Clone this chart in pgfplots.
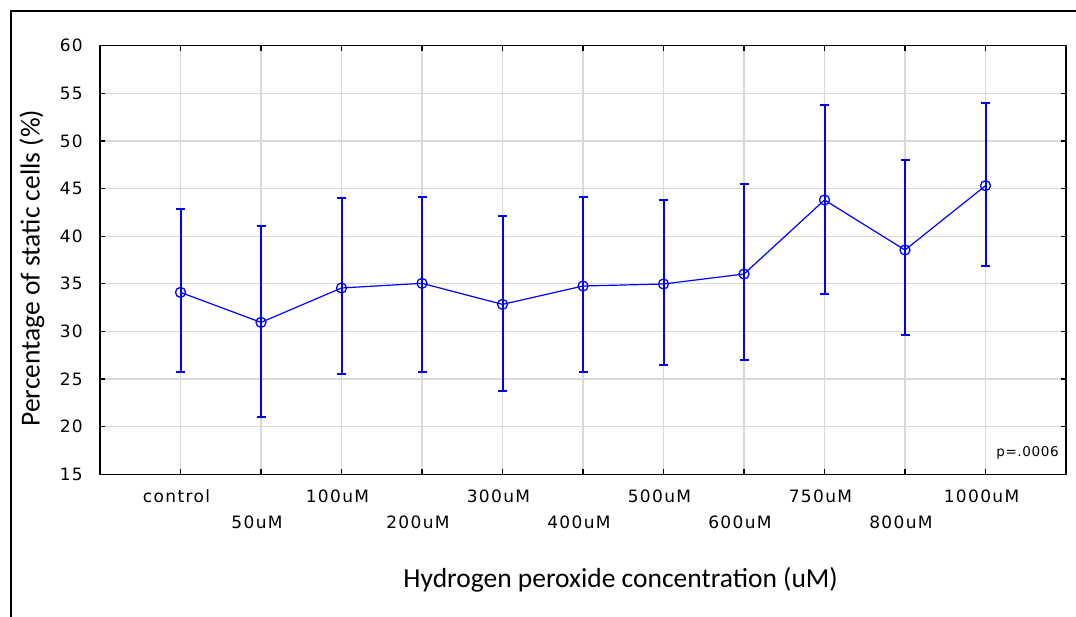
\documentclass[border=0pt]{standalone}
\usepackage{pgfplots}
\pgfplotsset{compat=1.18}
\usepackage{fontspec}
\setmainfont{Carlito}
\newfontfamily\tickfont[LetterSpace=8]{DejaVu Sans}
\newfontfamily\pfont[LetterSpace=5]{DejaVu Sans}
\newcommand{\low}[1]{\raisebox{-26.3pt}[\height][\depth]{#1}}
\pgfplotstableread{
x y ep em
0 34.10 8.75 8.36
1 30.95 10.08 9.95
2 34.56 9.41 9.00
3 35.05 9.10 9.31
4 32.84 9.28 9.10
5 34.77 9.38 9.03
6 34.98 8.79 8.54
7 36.03 9.45 9.03
8 43.80 10.01 9.87
9 38.55 9.42 8.96
10 45.30 8.68 8.43
}\datatable
\begin{document}
\begin{tikzpicture}[x=1pt,y=1pt]
\useasboundingbox (0,0) rectangle (1076,616);
\draw[line width=2.8pt] (11,-10) -- (11,605) -- (1090,605);
\begin{axis}[
 at={(100pt,141.7pt)}, anchor=south west, scale only axis,
 width=966pt, height=428.6pt,
 xmin=-1, xmax=11, ymin=15, ymax=60,
 ytick={15,20,...,60},
 xtick={0,1,...,10},
 xticklabels={control,\low{50uM},100uM,\low{200uM},300uM,\low{400uM},500uM,\low{600uM},750uM,\low{800uM},1000uM},
 grid=major, major grid style={draw=gray!30, line width=1.3pt},
 axis line style={line width=1.5pt},
 tick style={black, line width=1.2pt},
 tick align=inside, major tick length=5pt,
 /pgf/number format/assume math mode=true,
 xticklabel style={font=\tickfont\fontsize{17}{20}\selectfont, anchor=north, inner sep=0pt, yshift=-15.2pt, xshift=-4pt},
 yticklabel style={font=\tickfont\fontsize{17}{20}\selectfont, anchor=east, inner sep=0pt, xshift=-17pt},
 xlabel={Hydrogen peroxide concentration (uM)},
 ylabel={Percentage of static cells (\%)},
 xlabel style={at={(rel axis cs:0.539,-0.2473)}, anchor=center, font=\fontsize{27.5}{32}\selectfont},
 ylabel style={at={(rel axis cs:-0.0704,0.481)}, anchor=center, font=\fontsize{27.5}{32}\selectfont},
]
\addplot[blue, line width=1.2pt, mark=o, mark size=5pt, mark options={line width=1.3pt},
  error bars/.cd, y dir=both, y explicit,
  error bar style={line width=2pt, blue},
  error mark options={rotate=90, mark size=4.5pt, line width=2pt, blue}]
  table[x=x, y=y, y error plus=ep, y error minus=em] {\datatable};
\node[anchor=east, inner sep=0pt, font=\pfont\fontsize{13.5}{16}\selectfont] at (rel axis cs:0.9928,0.0504) {p=.0006};
\end{axis}
\end{tikzpicture}
\end{document}
